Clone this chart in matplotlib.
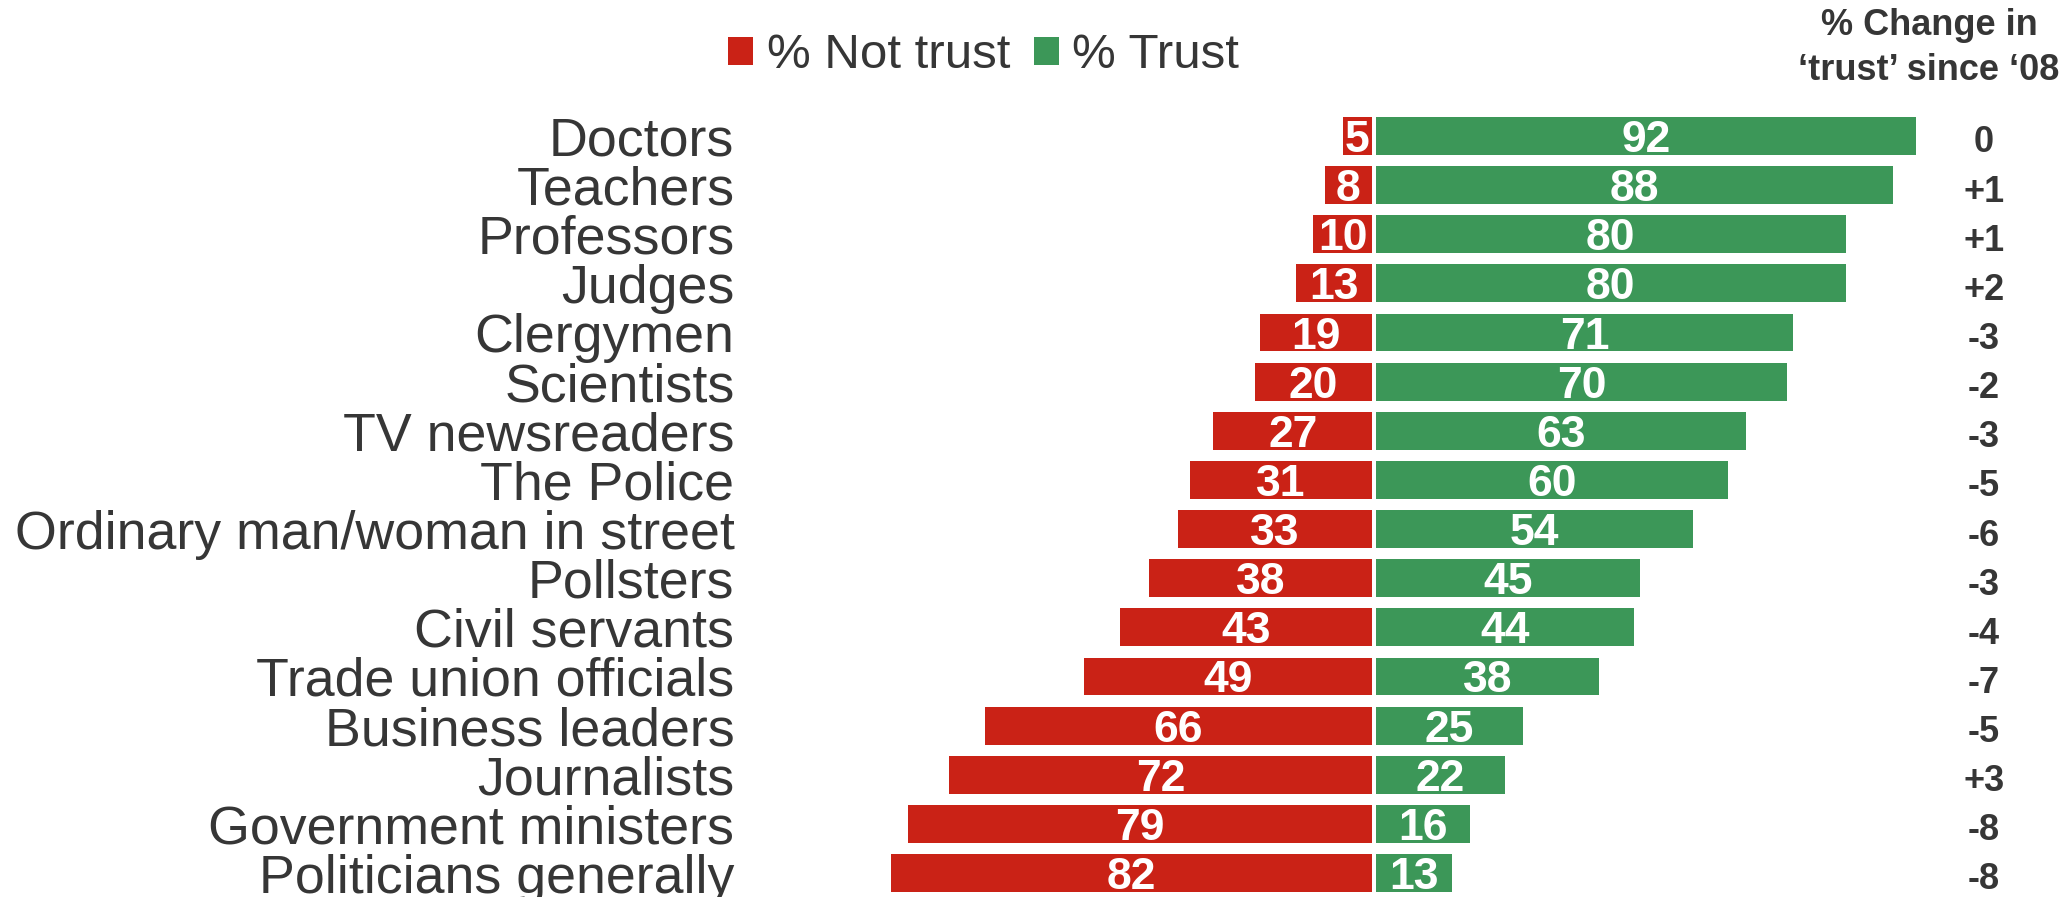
import matplotlib.pyplot as plt
import numpy as np

# Data
categories = ["Doctors", "Teachers", "Professors", "Judges", "Clergymen", "Scientists",
              "TV newsreaders", "The Police", "Ordinary man/woman in street", "Pollsters",
              "Civil servants", "Trade union officials", "Business leaders", "Journalists",
              "Government ministers", "Politicians generally"]
not_trust = [5, 8, 10, 13, 19, 20, 27, 31, 33, 38, 43, 49, 66, 72, 79, 82]
trust = [92, 88, 80, 80, 71, 70, 63, 60, 54, 45, 44, 38, 25, 22, 16, 13]
change = ["0", "+1", "+1", "+2", "-3", "-2", "-3", "-5", "-6", "-3", "-4", "-7", "-5", "+3", "-8", "-8"]

red = "#CA2216"
green = "#3C9758"
grey = "#363636"

plt.rcParams['font.family'] = ['Liberation Sans', 'DejaVu Sans']

W, H = 2068, 897
fig = plt.figure(figsize=(W / 100, H / 100), dpi=100)

# axes placed so that 0 sits at x=1374px and one unit is ~5.87px
x0, scale = 1374, 5.87
xmin, xmax = -108, 100
ax_left = x0 + xmin * scale
ax_right = x0 + xmax * scale
top_px, bot_px = 111.4, 897.6
ax = fig.add_axes([ax_left / W, (H - bot_px) / H, (ax_right - ax_left) / W, (bot_px - top_px) / H])

y = np.arange(len(categories))
gap = 0.35
h = 0.77
ax.barh(y, -np.array(not_trust), left=-gap, height=h, color=red, label="% Not trust")
ax.barh(y, trust, left=gap, height=h, color=green, label="% Trust")

# values inside bars
for i in range(len(categories)):
    ax.text(-gap - not_trust[i] / 2, i, str(not_trust[i]), ha="center", va="center_baseline",
            color="white", fontsize=32, fontweight="bold")
    ax.text(gap + trust[i] / 2, i, str(trust[i]), ha="center", va="center_baseline",
            color="white", fontsize=32, fontweight="bold")

# change column on the right
trans = plt.matplotlib.transforms.blended_transform_factory(fig.transFigure, ax.transData)
for i, c in enumerate(change):
    ax.text(1984 / W, i + 0.06, c, transform=trans, ha="center", va="center_baseline",
            color=grey, fontsize=26, fontweight="bold")

fig.text(1929 / W, 1 - 48 / H, "% Change in\n\u2018trust\u2019 since \u201808", ha="center", va="center",
         color=grey, fontsize=26, fontweight="bold", linespacing=1.4)

ax.set_xlim(xmin, xmax)
ax.set_ylim(len(categories) - 0.5, -0.5)
ax.set_yticks(y)
ax.set_yticklabels(categories, fontsize=38.7, color=grey)
ax.tick_params(axis="y", length=0, pad=4)
ax.set_xticks([])
for s in ax.spines.values():
    s.set_visible(False)

leg = fig.legend(loc="center", bbox_to_anchor=(983.5 / W, 1 - 56 / H), ncol=2, frameon=False,
                 fontsize=35.5, handlelength=0.51, handleheight=0.51, handletextpad=0.27,
                 columnspacing=0.48, borderpad=0)
for t in leg.get_texts():
    t.set_color(grey)

fig.savefig("out.png", dpi=100)
